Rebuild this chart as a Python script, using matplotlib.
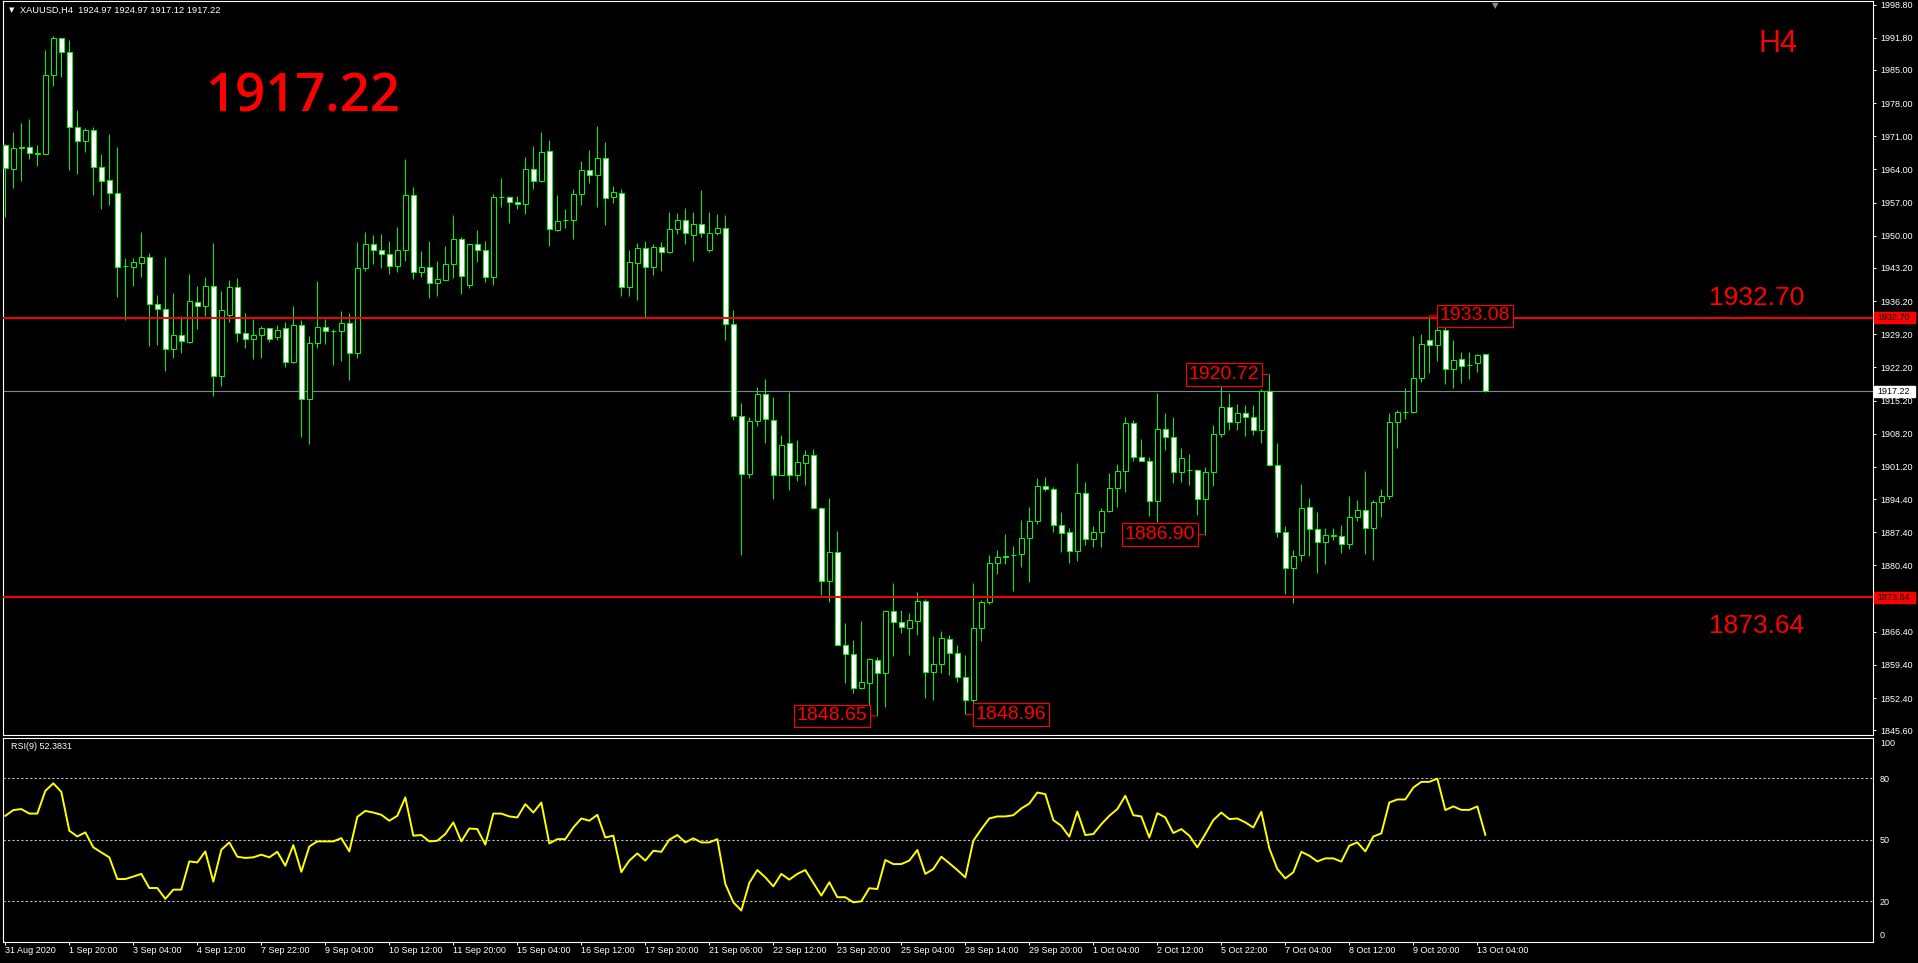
import matplotlib
matplotlib.use("Agg")
import matplotlib.pyplot as plt
import matplotlib.transforms as mtransforms
from matplotlib.patches import Rectangle
import numpy as np

plt.rcParams["font.family"] = ["Liberation Sans", "DejaVu Sans"]

W, H = 1918, 963

# XAUUSD H4 bars, oldest first
opens = [
    1969.1, 1964.2, 1968.6, 1968.7, 1967.3, 1967.2, 1983.9, 1991.7, 1988.8, 1972.9,
    1970.0, 1972.3, 1964.5, 1961.7, 1959.0, 1943.6, 1943.5, 1944.3, 1945.5, 1935.5,
    1934.5, 1926.0, 1929.0, 1927.6, 1936.1, 1935.2, 1939.5, 1920.5, 1933.3, 1939.1,
    1929.5, 1928.3, 1929.0, 1930.5, 1928.6, 1930.5, 1923.4, 1931.2, 1915.5, 1927.4,
    1930.7, 1929.9, 1929.8, 1931.5, 1925.3, 1943.1, 1948.2, 1946.9, 1946.2, 1943.6,
    1947.1, 1958.6, 1942.4, 1943.5, 1940.1, 1940.7, 1944.0, 1949.4, 1939.6, 1948.2,
    1947.1, 1941.3, 1958.1, 1958.2, 1957.2, 1956.7, 1964.2, 1961.6, 1967.8, 1951.3,
    1953.3, 1953.3, 1958.9, 1963.9, 1962.8, 1966.5, 1958.2, 1959.1, 1939.2, 1944.3,
    1947.5, 1943.4, 1947.7, 1946.6, 1951.4, 1953.4, 1950.2, 1952.4, 1947.1, 1950.6,
    1951.7, 1931.3, 1912.0, 1899.7, 1911.0, 1916.7, 1911.2, 1899.6, 1906.2, 1899.4,
    1902.1, 1903.8, 1892.6, 1877.2, 1883.2, 1863.7, 1861.7, 1854.6, 1855.5, 1860.4,
    1857.8, 1870.7, 1868.4, 1867.3, 1868.7, 1873.0, 1858.0, 1859.7, 1864.8, 1862.0,
    1856.8, 1852.0, 1867.3, 1872.6, 1881.0, 1882.5, 1882.6, 1882.9, 1886.3, 1889.7,
    1897.2, 1896.5, 1888.9, 1887.4, 1883.5, 1895.8, 1886.0, 1887.4, 1891.9, 1896.7,
    1900.3, 1910.4, 1903.4, 1902.5, 1894.1, 1909.3, 1907.6, 1900.2, 1900.5, 1900.5,
    1894.4, 1900.2, 1908.1, 1913.8, 1910.6, 1912.5, 1911.7, 1909.1, 1917.2, 1901.7,
    1887.4, 1879.8, 1882.6, 1892.7, 1888.2, 1885.4, 1886.7, 1886.7, 1884.9, 1890.6,
    1892.1, 1888.4, 1893.9, 1895.0, 1910.6, 1912.7, 1912.7, 1919.9, 1928.1, 1926.9,
    1930.2, 1921.9, 1923.9, 1922.7, 1923.1, 1924.97,
]
highs = [
    1969.4, 1971.9, 1973.8, 1974.7, 1969.1, 1989.3, 1992.1, 1991.8, 1991.4, 1976.6,
    1972.8, 1972.9, 1967.3, 1971.4, 1968.8, 1945.3, 1945.3, 1950.8, 1946.3, 1937.5,
    1945.5, 1937.9, 1933.0, 1941.9, 1939.5, 1941.2, 1948.4, 1938.3, 1940.7, 1941.1,
    1933.8, 1932.4, 1930.9, 1930.6, 1931.2, 1931.7, 1935.2, 1932.2, 1928.8, 1940.5,
    1932.4, 1930.3, 1934.1, 1933.8, 1948.7, 1950.7, 1950.1, 1950.3, 1948.9, 1951.8,
    1966.2, 1960.2, 1946.7, 1948.9, 1944.6, 1947.8, 1954.3, 1949.7, 1948.3, 1951.3,
    1948.9, 1958.9, 1962.1, 1958.5, 1958.5, 1966.6, 1968.9, 1971.9, 1970.2, 1958.6,
    1955.6, 1959.8, 1965.7, 1968.2, 1973.2, 1969.8, 1960.6, 1959.8, 1946.9, 1948.4,
    1949.0, 1948.2, 1948.6, 1955.1, 1954.8, 1955.8, 1955.1, 1959.6, 1955.1, 1954.5,
    1954.3, 1934.3, 1914.7, 1911.7, 1918.0, 1919.7, 1915.9, 1907.9, 1917.1, 1906.9,
    1904.8, 1905.0, 1892.8, 1894.6, 1887.7, 1868.3, 1864.7, 1868.7, 1860.9, 1861.1,
    1870.8, 1876.6, 1871.1, 1870.3, 1874.7, 1873.3, 1865.5, 1866.5, 1865.7, 1863.6,
    1861.5, 1876.6, 1873.1, 1882.6, 1883.6, 1887.0, 1884.5, 1890.0, 1892.7, 1898.8,
    1899.1, 1897.0, 1891.6, 1888.4, 1902.0, 1898.0, 1888.7, 1892.5, 1899.9, 1901.9,
    1911.7, 1911.2, 1907.0, 1903.2, 1916.8, 1912.5, 1911.7, 1905.2, 1903.9, 1900.8,
    1901.1, 1910.0, 1918.4, 1916.9, 1914.5, 1914.2, 1914.2, 1917.6, 1920.72, 1906.2,
    1888.7, 1883.7, 1897.6, 1894.6, 1891.7, 1888.3, 1888.4, 1888.9, 1895.0, 1894.2,
    1900.3, 1894.2, 1896.5, 1912.5, 1913.2, 1917.9, 1928.8, 1929.2, 1933.08, 1931.7,
    1931.2, 1928.1, 1925.5, 1925.5, 1925.0, 1924.97,
]
lows = [
    1954.0, 1960.0, 1961.6, 1966.2, 1964.8, 1967.2, 1981.7, 1983.6, 1963.9, 1963.1,
    1967.6, 1958.7, 1955.7, 1956.6, 1937.1, 1932.2, 1939.5, 1941.4, 1926.8, 1926.9,
    1921.5, 1924.3, 1925.3, 1927.4, 1930.4, 1933.1, 1916.2, 1918.3, 1931.7, 1927.6,
    1926.4, 1924.0, 1924.3, 1927.6, 1927.9, 1922.4, 1923.1, 1907.6, 1906.0, 1926.4,
    1927.1, 1922.7, 1923.6, 1919.5, 1924.3, 1942.6, 1944.0, 1943.2, 1942.0, 1942.3,
    1944.6, 1940.9, 1941.3, 1936.8, 1937.2, 1940.6, 1941.0, 1937.7, 1939.0, 1944.4,
    1940.2, 1939.6, 1956.0, 1952.6, 1955.6, 1954.5, 1959.8, 1961.3, 1947.9, 1951.0,
    1951.7, 1949.4, 1956.5, 1961.2, 1956.1, 1952.3, 1957.0, 1937.2, 1937.2, 1936.5,
    1932.9, 1941.7, 1942.5, 1946.3, 1950.3, 1948.2, 1944.6, 1949.7, 1946.5, 1950.2,
    1927.9, 1911.2, 1882.7, 1898.8, 1909.8, 1906.3, 1894.5, 1899.6, 1896.3, 1898.3,
    1897.4, 1892.3, 1874.1, 1872.7, 1863.6, 1855.5, 1853.5, 1854.4, 1848.9, 1848.65,
    1850.6, 1861.3, 1866.1, 1861.5, 1865.7, 1852.5, 1852.1, 1857.8, 1857.3, 1855.9,
    1848.96, 1850.6, 1864.5, 1872.2, 1878.6, 1880.7, 1875.1, 1880.1, 1877.0, 1889.1,
    1896.2, 1887.4, 1883.3, 1881.0, 1881.4, 1884.7, 1884.4, 1884.3, 1891.7, 1892.7,
    1896.0, 1902.5, 1902.4, 1890.9, 1889.5, 1904.8, 1897.9, 1898.1, 1897.4, 1891.0,
    1886.9, 1897.2, 1907.6, 1909.0, 1908.9, 1907.8, 1907.9, 1906.3, 1901.5, 1886.5,
    1874.4, 1872.5, 1881.4, 1882.3, 1878.9, 1880.7, 1885.8, 1883.1, 1883.9, 1889.8,
    1882.9, 1881.6, 1890.7, 1894.5, 1905.2, 1911.4, 1912.5, 1919.2, 1921.1, 1923.6,
    1918.7, 1917.9, 1919.0, 1919.8, 1921.3, 1917.12,
]
closes = [
    1964.3, 1968.6, 1968.7, 1967.4, 1967.4, 1983.9, 1991.7, 1988.8, 1972.9, 1970.0,
    1972.3, 1964.5, 1961.5, 1959.0, 1943.5, 1943.7, 1944.4, 1945.5, 1935.5, 1934.5,
    1926.0, 1929.0, 1927.7, 1936.3, 1935.2, 1939.5, 1920.5, 1934.4, 1939.1, 1929.4,
    1928.3, 1929.0, 1930.5, 1928.3, 1930.2, 1923.4, 1931.2, 1915.5, 1927.3, 1930.7,
    1929.8, 1930.0, 1931.5, 1925.3, 1943.1, 1948.2, 1947.1, 1946.2, 1943.7, 1947.1,
    1958.6, 1942.4, 1943.5, 1940.1, 1940.8, 1944.1, 1949.4, 1941.6, 1948.2, 1947.1,
    1941.3, 1958.1, 1958.2, 1957.1, 1956.7, 1964.2, 1961.6, 1967.7, 1951.4, 1953.2,
    1953.4, 1958.9, 1963.9, 1962.8, 1966.5, 1958.0, 1959.3, 1939.2, 1944.4, 1947.5,
    1943.4, 1947.7, 1946.6, 1951.5, 1953.4, 1950.5, 1952.4, 1950.6, 1950.6, 1951.7,
    1931.3, 1912.0, 1899.7, 1911.0, 1916.7, 1911.3, 1899.6, 1905.9, 1899.4, 1902.2,
    1903.8, 1892.6, 1877.2, 1883.2, 1863.7, 1861.8, 1854.6, 1855.7, 1860.6, 1857.8,
    1870.7, 1868.4, 1867.5, 1868.8, 1873.0, 1858.0, 1859.7, 1865.0, 1862.0, 1856.8,
    1852.0, 1867.3, 1872.6, 1881.0, 1882.1, 1882.1, 1882.7, 1886.3, 1889.7, 1897.1,
    1896.5, 1888.9, 1887.2, 1883.5, 1895.8, 1886.0, 1887.4, 1892.0, 1896.7, 1900.3,
    1910.4, 1903.4, 1902.5, 1894.1, 1909.3, 1907.6, 1900.2, 1903.0, 1900.6, 1894.4,
    1900.2, 1908.1, 1913.8, 1910.6, 1912.5, 1911.7, 1909.1, 1917.2, 1901.7, 1887.4,
    1879.8, 1882.5, 1892.5, 1888.2, 1885.4, 1886.8, 1886.8, 1884.9, 1890.6, 1892.1,
    1888.4, 1893.9, 1895.0, 1910.6, 1912.7, 1912.8, 1919.9, 1927.1, 1926.9, 1930.2,
    1921.9, 1923.7, 1922.6, 1922.8, 1924.8, 1917.22,
]

# RSI(9) line of the lower window
rsi9 = [
    61.7, 64.5, 65.0, 62.8, 62.8, 73.9, 77.6, 73.4, 54.4, 51.6,
    53.6, 46.3, 43.8, 41.4, 30.8, 30.8, 32.0, 33.3, 26.4, 26.4,
    21.1, 25.6, 25.6, 39.4, 38.9, 44.3, 29.5, 45.1, 48.7, 41.7,
    41.1, 41.4, 42.7, 41.4, 44.1, 37.3, 47.4, 34.4, 46.7, 49.2,
    49.2, 49.2, 50.8, 44.3, 61.2, 64.1, 63.3, 62.2, 59.3, 61.7,
    70.7, 52.0, 52.3, 49.2, 49.5, 52.8, 58.5, 49.2, 55.5, 55.2,
    47.6, 62.8, 62.8, 61.4, 60.9, 67.4, 63.3, 68.2, 48.2, 50.3,
    50.3, 56.0, 60.4, 59.3, 62.2, 51.1, 52.0, 34.1, 39.8, 43.3,
    39.8, 44.6, 44.1, 50.0, 52.3, 48.7, 50.7, 48.7, 48.7, 50.3,
    28.4, 19.4, 15.4, 28.9, 35.2, 31.6, 27.2, 33.3, 30.5, 33.3,
    35.2, 28.9, 22.7, 29.2, 21.9, 21.9, 19.4, 19.9, 26.3, 25.9,
    40.1, 38.1, 38.1, 39.8, 45.0, 33.3, 35.7, 41.7, 38.5, 35.2,
    31.6, 49.5, 55.2, 60.4, 61.4, 61.4, 62.0, 65.3, 67.7, 73.1,
    72.3, 59.6, 56.8, 51.5, 63.8, 52.3, 52.8, 57.6, 61.7, 65.0,
    71.5, 62.0, 61.4, 51.1, 63.0, 60.9, 53.3, 55.2, 52.0, 46.3,
    52.8, 59.6, 63.3, 60.1, 60.4, 58.5, 56.0, 63.7, 45.8, 35.7,
    31.1, 34.1, 44.1, 42.2, 39.4, 40.9, 40.9, 39.3, 47.1, 48.7,
    44.3, 51.6, 53.1, 68.2, 69.7, 69.7, 75.5, 78.3, 78.3, 79.9,
    64.5, 66.3, 64.6, 64.6, 66.3, 52.4,
]

date_labels = [
    "31 Aug 2020", "1 Sep 20:00", "3 Sep 04:00", "4 Sep 12:00", "7 Sep 22:00",
    "9 Sep 04:00", "10 Sep 12:00", "11 Sep 20:00", "15 Sep 04:00", "16 Sep 12:00",
    "17 Sep 20:00", "21 Sep 06:00", "22 Sep 12:00", "23 Sep 20:00", "25 Sep 04:00",
    "28 Sep 14:00", "29 Sep 20:00", "1 Oct 04:00", "2 Oct 12:00", "5 Oct 22:00",
    "7 Oct 04:00", "8 Oct 12:00", "9 Oct 20:00", "13 Oct 04:00",
]
price_ticks = [
    1998.80, 1991.80, 1985.00, 1978.00, 1971.00, 1964.00, 1957.00, 1950.00,
    1943.20, 1936.20, 1929.20, 1922.20, 1915.20, 1908.20, 1901.20, 1894.40,
    1887.40, 1880.40, 1873.40, 1866.40, 1859.40, 1852.40, 1845.60,
]
rsi_levels = [80, 50, 20]
hlines = [1932.70, 1873.64]
last_price = 1917.22
# (bar, price, label side)
swing_marks = [
    (109, 1848.65, "left"),
    (120, 1848.96, "right"),
    (150, 1886.90, "left"),
    (158, 1920.72, "left"),
    (178, 1933.08, "right"),
]

GREEN = "#00ff00"
RED = "#ff0000"
FG = "white"


def fbox(x0, y0, x1, y1):
    # pixel box (top-left origin) -> figure fraction rect
    return [x0 / W, 1 - y1 / H, (x1 - x0) / W, (y1 - y0) / H]


fig = plt.figure(figsize=(W / 100, H / 100), dpi=100, facecolor="black")
ax = fig.add_axes(fbox(3, 1, 1873, 735), facecolor="black")
ax2 = fig.add_axes(fbox(3, 737.5, 1873, 942), facecolor="black")

n = len(opens)
x = np.arange(n)
o = np.array(opens)
hi = np.array(highs)
lo = np.array(lows)
c = np.array(closes)

# 8 px per bar
xmin = -0.29
xmax = xmin + 1870 / 8
for a in (ax, ax2):
    a.set_xlim(xmin, xmax)
    for s in a.spines.values():
        s.set_color(FG)
        s.set_linewidth(0.8)

ax.set_ylim(1844.61, 1999.56)
ax2.set_ylim(0, 100)

# candles: white = bearish, hollow = bullish
bear = c < o
ax.vlines(x, lo, hi, colors=GREEN, linewidth=0.7, zorder=2)
ax.bar(x, np.maximum(np.abs(c - o), 0.05), bottom=np.minimum(o, c), width=0.56,
       color=np.where(bear, "white", "black"), edgecolor=GREEN, linewidth=0.7,
       zorder=3)

for lvl in hlines:
    ax.axhline(lvl, color=RED, linewidth=1.4, zorder=4)
ax.axhline(last_price, color="#778899", linewidth=0.8, zorder=1)

# swing labels
for bar, price, side in swing_marks:
    dx = -10 if side == "left" else 10
    ax.annotate(f"{price:.2f}", xy=(bar, price), xytext=(dx * 0.72, 0),
                textcoords="offset points", ha="right" if side == "left" else "left",
                va="center", color=RED, fontsize=14,
                bbox=dict(boxstyle="square,pad=0.14", fc="black", ec=RED, lw=0.8),
                arrowprops=dict(arrowstyle="-", color=RED, lw=0.8, shrinkA=0, shrinkB=0),
                zorder=6)

# price axis
ax.set_xticks([])
ax.yaxis.tick_right()
ax.set_yticks(price_ticks)
ax.set_yticklabels([f"{p:.2f}" for p in price_ticks])
ax.tick_params(axis="y", colors=FG, labelsize=6.5, length=2.5, width=0.7, pad=2.5)

# tags on the price axis
blend = mtransforms.blended_transform_factory(ax.transAxes, ax.transData)
px_price = 1 / 4.737
tags = [(hlines[0], RED), (last_price, "white"), (hlines[1], RED)]
for price, col in tags:
    ax.add_patch(Rectangle((1.0004, price - 5.5 * px_price), 41 / 1870, 11 * px_price,
                           transform=blend, facecolor=col, edgecolor=col,
                           clip_on=False, zorder=10))
    ax.text(1.0004 + 4 / 1870, price, f"{price:.2f}", transform=blend, color="black",
            fontsize=6.5, ha="left", va="center", clip_on=False, zorder=11)

# RSI window
ax2.plot(x, rsi9, color="#ffff00", linewidth=1.4, zorder=3)
for lvl in rsi_levels:
    ax2.axhline(lvl, color="#c0c0c0", linewidth=0.8, dashes=(2, 2), zorder=1)
ax2.yaxis.tick_right()
ax2.set_yticks([3.8, 20, 50, 80, 97.5])
ax2.set_yticklabels(["0", "20", "50", "80", "100"])
ax2.tick_params(axis="y", colors=FG, labelsize=6.5, length=0, pad=5)
ax2.set_xticks(np.arange(len(date_labels)) * 8)
ax2.set_xticklabels(date_labels, ha="left")
ax2.tick_params(axis="x", colors=FG, labelsize=6.5, length=2.5, width=0.7, pad=0.5)
ax2.text(8 / 1870, 1 - 8.5 / 204.5, "RSI(9) 52.3831", transform=ax2.transAxes,
         color=FG, fontsize=6.5, ha="left", va="center")

# header and big annotations
fig.text(9 / W, 1 - 10 / H, "\u25bc", color=FG, fontsize=5, ha="left", va="center",
         family="DejaVu Sans")
fig.text(19.6 / W, 1 - 10 / H, "XAUUSD,H4  1924.97 1924.97 1917.12 1917.22",
         color=FG, fontsize=6.7, ha="left", va="center")
fig.text(1495 / W, 1 - 1 / H, "\u25bc", color="#8090a0", fontsize=6, ha="center",
         va="top", family="DejaVu Sans")
fig.text(205 / W, 1 - 112 / H, "1917.22", color=RED, fontsize=38, ha="left",
         va="baseline", family="Open Sans", weight="semibold")
fig.text(1757 / W, 1 - 305 / H, "1932.70", color=RED, fontsize=19, ha="center",
         va="baseline")
fig.text(1757 / W, 1 - 633 / H, "1873.64", color=RED, fontsize=19, ha="center",
         va="baseline")
fig.text(1778 / W, 1 - 52 / H, "H4", color=RED, fontsize=22, ha="center",
         va="baseline")

fig.savefig("out.png", dpi=100, facecolor="black")
